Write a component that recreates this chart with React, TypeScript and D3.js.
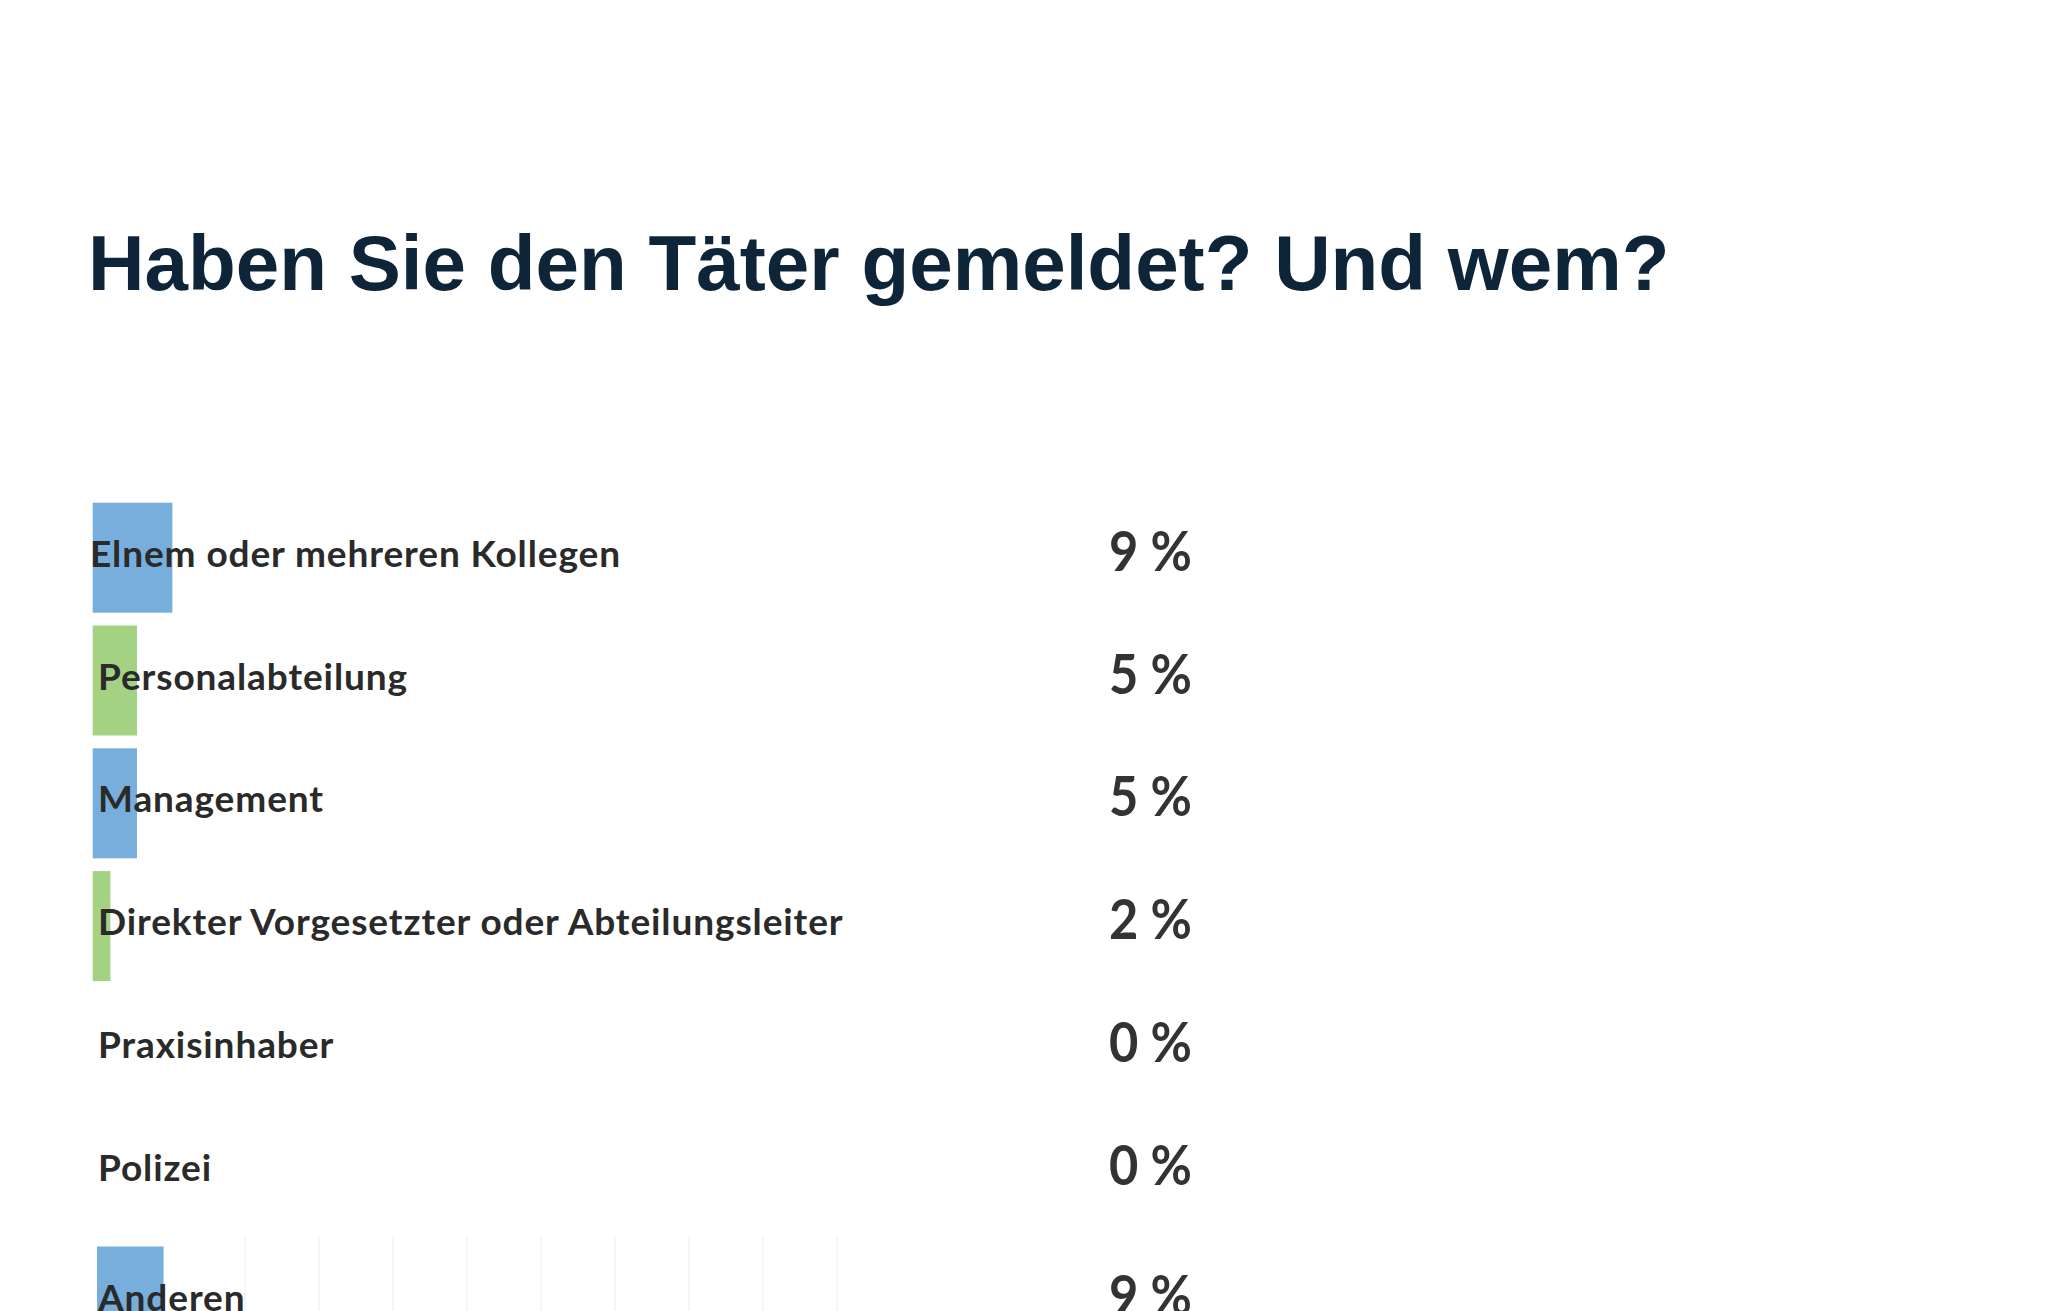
import React from "react";
import * as d3 from "d3";

const title = "Haben Sie den Täter gemeldet? Und wem?";
const categories = [
  "Elnem oder mehreren Kollegen",
  "Personalabteilung",
  "Management",
  "Direkter Vorgesetzter oder Abteilungsleiter",
  "Praxisinhaber",
  "Polizei",
  "Anderen",
];
const values = [9, 5, 5, 2, 0, 0, 9];
const barColors = ["#78AEDB", "#A3D283"];
const gridTicks = [20, 30, 40, 50, 60, 70, 80, 90, 100];

const W = 2048;
const H = 1311;

export default function App() {
  const xMain = d3.scaleLinear().domain([0, 100]).range([92.7, 978]);
  const xLast = d3.scaleLinear().domain([0, 100]).range([97, 837]);
  const step = 122.8;
  const y = d3
    .scaleBand<string>()
    .domain(categories)
    .range([502.7, 502.7 + categories.length * step - 12.8])
    .paddingInner(12.8 / step)
    .paddingOuter(0);

  const lastIdx = categories.length - 1;
  const lastTop = (y(categories[lastIdx]) as number) + 7;

  return (
    <svg
      width={W}
      height={H}
      viewBox={`0 0 ${W} ${H}`}
      style={{ position: "absolute", left: 0, top: 0, background: "#fff" }}
    >
      <rect x={0} y={0} width={W} height={H} fill="#fff" />
      <text
        x={88}
        y={290}
        fontFamily="'Liberation Sans', Arial, sans-serif"
        fontWeight={700}
        fontSize={78.2}
        fill="#0e2438"
      >
        {title}
      </text>

      {gridTicks.map((t) => (
        <line
          key={t}
          x1={xLast(t)}
          x2={xLast(t)}
          y1={lastTop - 10}
          y2={H}
          stroke="#f3f3f3"
          strokeWidth={1.5}
        />
      ))}

      {categories.map((c, i) => {
        const x = i === lastIdx ? xLast : xMain;
        const top = i === lastIdx ? lastTop : (y(c) as number);
        const v = values[i];
        return (
          <g key={c}>
            {v > 0 && (
              <rect
                x={x(0)}
                y={top}
                width={x(v) - x(0)}
                height={y.bandwidth()}
                fill={barColors[i % 2]}
              />
            )}
            <text
              x={i === 0 ? 90 : 98}
              y={top + 64}
              fontFamily="Lato, 'Open Sans', sans-serif"
              fontWeight={700}
              fontSize={37}
              letterSpacing={0.9}
              fill="#2a2a2a"
            >
              {c}
            </text>
            <text
              transform={`translate(1192,${top + 68}) scale(0.92,1)`}
              textAnchor="end"
              fontFamily="Lato, 'Open Sans', sans-serif"
              fontWeight={700}
              fontSize={55}
              fill="#333333"
            >
              {`${v} %`}
            </text>
          </g>
        );
      })}
    </svg>
  );
}
